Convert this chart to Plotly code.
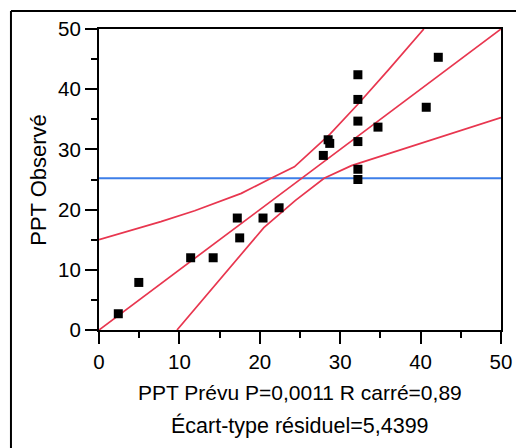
import plotly.graph_objects as go

# Data
pred_x = [2.4, 4.95, 11.4, 14.2, 17.2, 17.5, 20.4, 22.4, 27.9, 28.5, 28.7,
          32.2, 32.2, 32.2, 32.2, 32.2, 32.2, 34.7, 40.7, 42.2]
obs_y = [2.7, 7.9, 12.0, 12.0, 18.6, 15.3, 18.6, 20.3, 29.0, 31.6, 31.0,
         42.4, 38.3, 34.7, 31.3, 26.7, 25.0, 33.7, 37.0, 45.3]

fit_x = [0, 50]
fit_y = [0, 50]

ci_up_x = [0, 7.7, 11.9, 17.7, 21.4, 24.3, 28.7, 32.2, 36.0, 40.4]
ci_up_y = [15.0, 18.0, 19.8, 22.7, 25.2, 27.1, 32.5, 37.5, 43.2, 50.0]

ci_lo_x = [9.7, 16.0, 20.5, 24.4, 28.0, 31.4, 40.0, 50.0]
ci_lo_y = [0.0, 10.0, 17.0, 21.5, 25.2, 27.3, 31.0, 35.3]

mean_x = [0, 50]
mean_y = [25.2, 25.2]

tick_vals = [0, 10, 20, 30, 40, 50]

RED = "#e8364f"
BLUE = "#3d7ee8"
FONT = "Liberation Sans, Arial, sans-serif"

fig = go.Figure()
fig.add_trace(go.Scatter(x=mean_x, y=mean_y, mode="lines",
                         line=dict(color=BLUE, width=2), hoverinfo="skip"))
for xs, ys in [(fit_x, fit_y), (ci_up_x, ci_up_y), (ci_lo_x, ci_lo_y)]:
    fig.add_trace(go.Scatter(x=xs, y=ys, mode="lines",
                             line=dict(color=RED, width=1.7), hoverinfo="skip"))
fig.add_trace(go.Scatter(x=pred_x, y=obs_y, mode="markers",
                         marker=dict(symbol="square", size=9, color="black",
                                     line=dict(width=0))))

axis_common = dict(
    range=[0, 50], tickvals=tick_vals, ticks="outside", ticklen=12,
    tickwidth=1.5, tickcolor="black", showline=True, linecolor="black",
    linewidth=2, mirror=True, showgrid=False, zeroline=False, automargin=False,
    tickfont=dict(family=FONT, size=20.5, color="black"),
    minor=dict(dtick=5, ticks="outside", ticklen=6, tickwidth=1.5,
               tickcolor="black", showgrid=False),
)

fig.update_layout(
    width=516, height=448, autosize=False,
    margin=dict(l=99, r=15, t=29, b=118, autoexpand=False),
    paper_bgcolor="white", plot_bgcolor="white",
    showlegend=False,
    font=dict(family=FONT, color="black"),
    xaxis=dict(**axis_common),
    yaxis=dict(**axis_common),
)

fig.add_annotation(text="PPT Prévu P=0,0011 R carré=0,89", xref="paper", yref="paper",
                   x=0.5, y=-0.209, xanchor="center", yanchor="middle",
                   showarrow=False, font=dict(family=FONT, size=21, color="black"))
fig.add_annotation(text="Écart-type résiduel=5,4399", xref="paper", yref="paper",
                   x=0.5, y=-0.316, xanchor="center", yanchor="middle",
                   showarrow=False, font=dict(family=FONT, size=21.5, color="black"))
fig.add_annotation(text="PPT Observé", xref="paper", yref="paper",
                   x=-0.151, y=0.5, xanchor="center", yanchor="middle", textangle=-90,
                   showarrow=False, font=dict(family=FONT, size=22, color="black"))

# outer frame (top and left edges)
fig.add_shape(type="line", xref="paper", yref="paper", x0=-0.219, x1=1.04,
              y0=1.06, y1=1.06, line=dict(color="black", width=2))
fig.add_shape(type="line", xref="paper", yref="paper", x0=-0.219, x1=-0.219,
              y0=1.06, y1=-0.4, line=dict(color="black", width=2))

fig.write_html(
    "out.html",
    config={"displayModeBar": False, "responsive": False},
    post_script="document.documentElement.style.overflow='hidden';"
                "document.body.style.overflow='hidden';"
                "document.body.style.margin='0';",
)
